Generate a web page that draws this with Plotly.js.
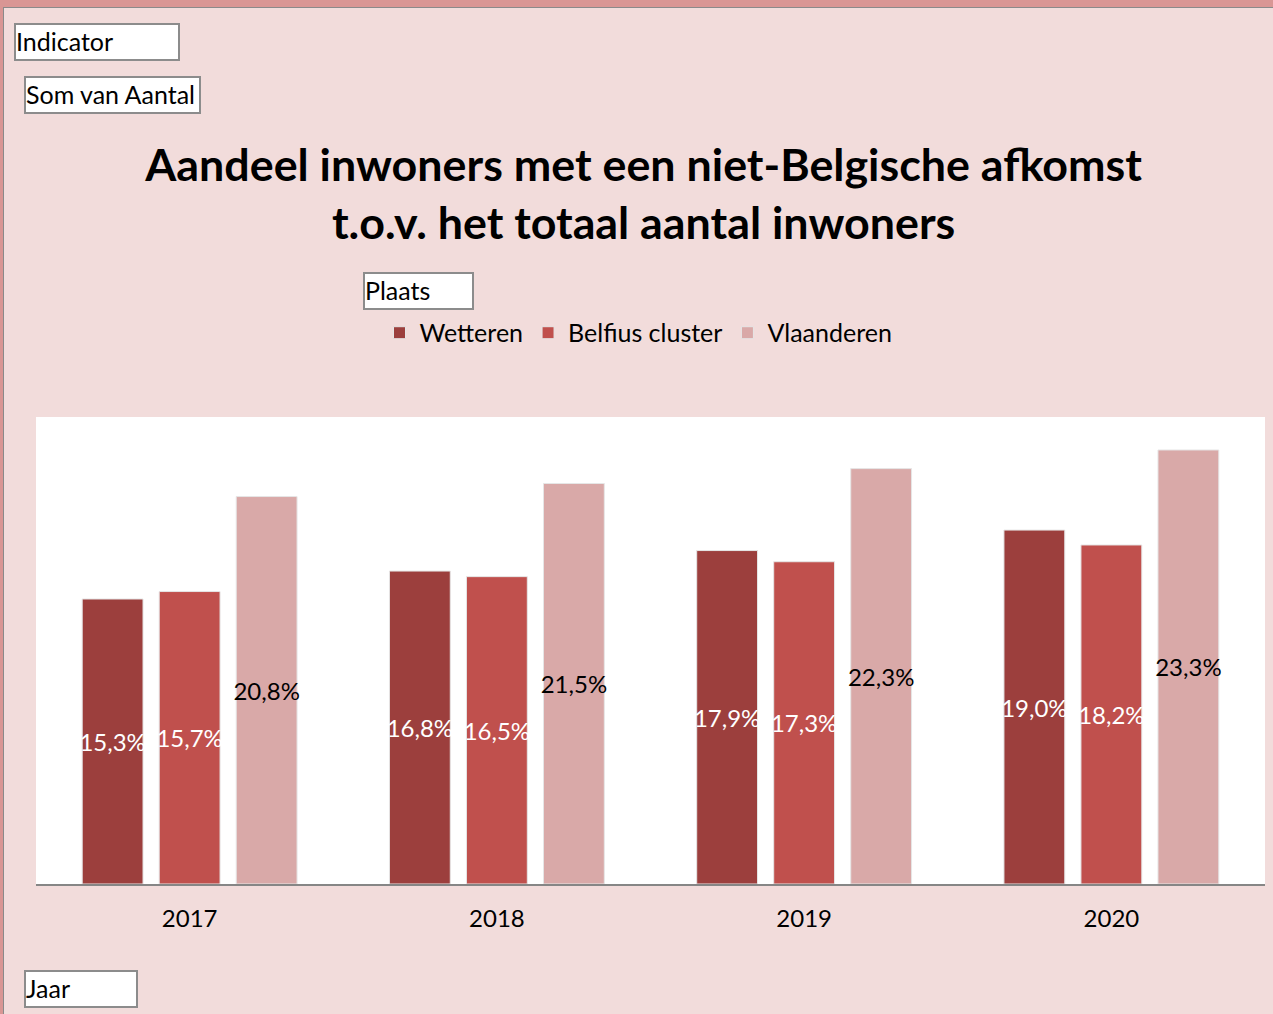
<!DOCTYPE html>
<html>
<head>
<meta charset="utf-8">
<script src="https://cdn.plot.ly/plotly-3.0.1.min.js"></script>
<style>
  html, body { margin: 0; padding: 0; }
  body { width: 1273px; height: 1014px; background: #D99694; position: relative; overflow: hidden; font-family: Lato, "Open Sans", sans-serif; }
  #wrap { position: absolute; left: 3px; top: 7px; width: 1270px; height: 1007px; border-left: 1px solid #8a8a8a; border-top: 1px solid #8a8a8a; box-sizing: border-box; }
  #chart { position: absolute; left: 0; top: 0; width: 1269px; height: 1006px; }
  .field { position: absolute; background: #fff; border: 2px solid #8c8c8c; box-sizing: border-box; font-size: 25px; line-height: 33px; color: #000; padding-left: 0px; z-index: 5; white-space: nowrap; }
</style>
</head>
<body>
<div id="wrap"><div id="chart"></div></div>
<div class="field" style="left:14px;top:23px;width:166px;height:38px;">Indicator</div>
<div class="field" style="left:24px;top:76px;width:177px;height:38px;">Som van Aantal</div>
<div class="field" style="left:363px;top:272px;width:111px;height:38px;">Plaats</div>
<div class="field" style="left:24px;top:970px;width:114px;height:38px;">Jaar</div>
<script>
const years = ['2017', '2018', '2019', '2020'];
const seriesNames = ['Wetteren', 'Belfius cluster', 'Vlaanderen'];
const wetteren = [15.3, 16.8, 17.9, 19.0];
const belfius = [15.7, 16.5, 17.3, 18.2];
const vlaanderen = [20.8, 21.5, 22.3, 23.3];
const colors = ['#9C3F3D', '#C0504D', '#D9A9A8'];
const labelColors = ['#ffffff', '#ffffff', '#000000'];
const values = [wetteren, belfius, vlaanderen];

const font = 'Lato, "Open Sans", sans-serif';

const traces = values.map((v, i) => ({
  type: 'bar',
  name: seriesNames[i],
  x: years,
  y: v,
  marker: { color: colors[i], line: { color: '#e6e6e6', width: 1 } },
  texttemplate: '%{y:.1f}%',
  textposition: 'inside',
  insidetextanchor: 'middle',
  textangle: 0,
  constraintext: 'none',
  textfont: { family: font, size: 24, color: labelColors[i] },
  hoverinfo: 'none',
  cliponaxis: false
}));

const layout = {
  width: 1269,
  height: 1006,
  separators: ',.',
  paper_bgcolor: '#F2DCDB',
  plot_bgcolor: '#FFFFFF',
  margin: { l: 32, r: 8, t: 409, b: 130 },
  font: { family: font, color: '#000' },
  barmode: 'group',
  bargap: 0.248,
  bargroupgap: 0.21,
  title: {
    text: '<b>Aandeel inwoners met een niet-Belgische afkomst<br>t.o.v. het totaal aantal inwoners</b>',
    font: { family: font, size: 44.8, color: '#000' },
    xref: 'container', x: 0.504, xanchor: 'center',
    yref: 'container', y: 0.828, yanchor: 'middle'
  },
  showlegend: true,
  legend: {
    orientation: 'h',
    x: 0.2795, xanchor: 'left',
    y: 1.18, yanchor: 'middle',
    font: { family: font, size: 25, color: '#000' },
    bgcolor: 'rgba(0,0,0,0)',
    itemclick: false
  },
  xaxis: {
    type: 'category',
    showline: true, linecolor: '#868686', linewidth: 2,
    ticks: '', showgrid: false, zeroline: false,
    ticklabelstandoff: 12,
    tickfont: { family: font, size: 24, color: '#000' },
    fixedrange: true
  },
  yaxis: {
    visible: false, range: [0, 25.07], showgrid: false, zeroline: false, fixedrange: true
  }
};

Plotly.newPlot('chart', traces, layout, { displayModeBar: false, staticPlot: true });
</script>
</body>
</html>
